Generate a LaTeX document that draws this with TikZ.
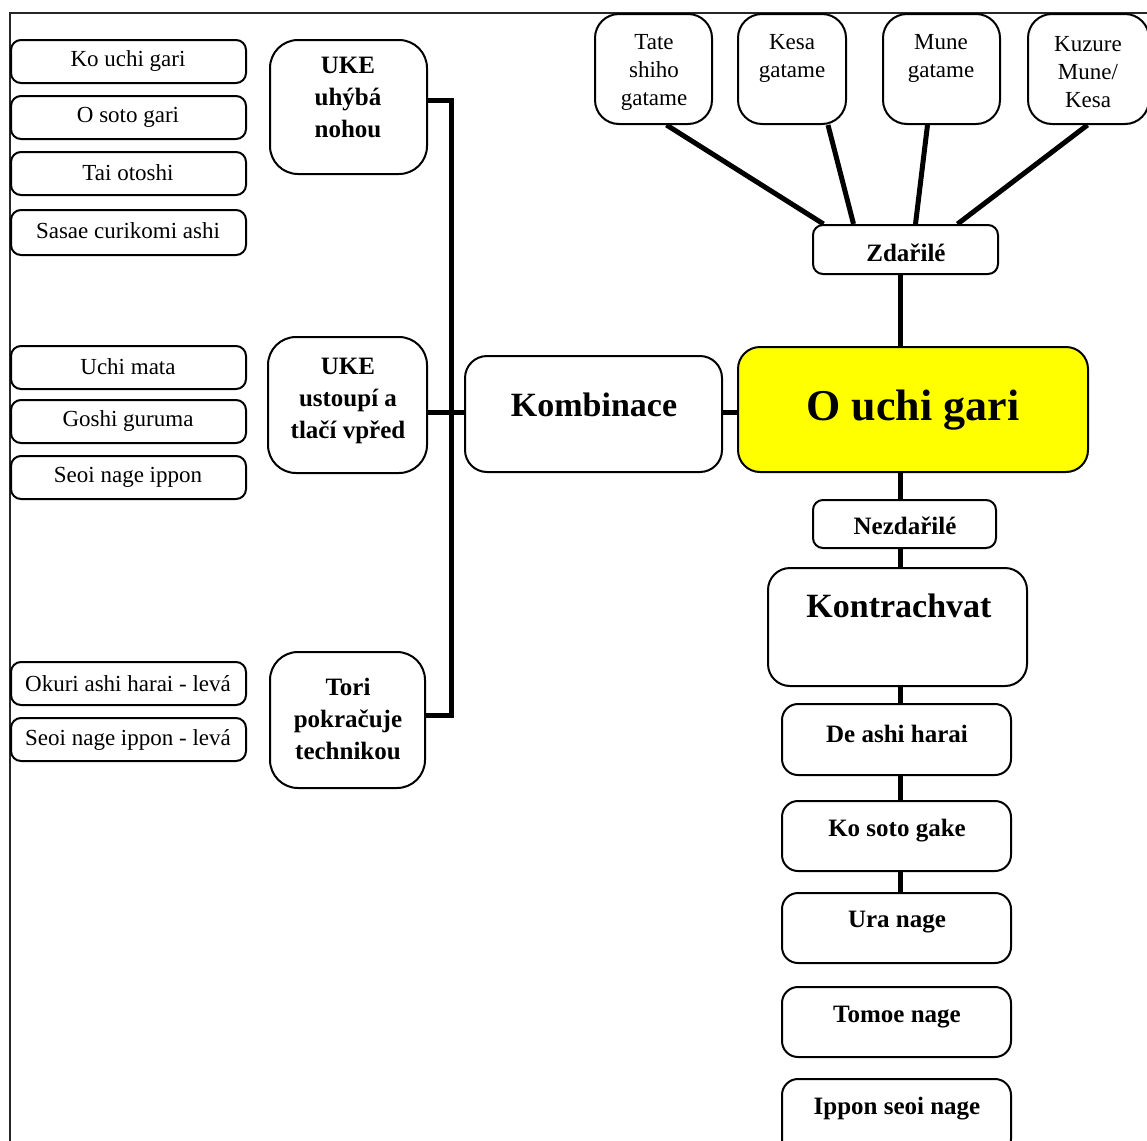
\documentclass[tikz,border=0pt]{standalone}
\usepackage{fontspec}
\setmainfont{Liberation Serif}
\usetikzlibrary{fit,calc,backgrounds}
\definecolor{hiyellow}{RGB}{255,255,0}

\begin{document}
\begin{tikzpicture}[x=0.5pt,y=-0.5pt,
  box/.style={draw, line width=1pt, fill=white, inner sep=0pt, rounded corners=5pt},
  bigbox/.style={box, rounded corners=12pt},
  midbox/.style={box, rounded corners=8pt},
  link/.style={line width=2.5pt},
  frame/.style={line width=1pt, draw=black!85},
  txt/.style={font=\fontsize{11.5pt}{14pt}\selectfont, align=center, inner sep=0pt},
  btxt/.style={font=\fontsize{12.5pt}{16pt}\selectfont\bfseries, align=center, inner sep=0pt},
  htxt/.style={font=\fontsize{17pt}{20pt}\selectfont\bfseries, align=center, inner sep=0pt},
]
\useasboundingbox (0,0) rectangle (1147,1141);

% junction points of the connectors
\coordinate (j1) at (451,100);
\coordinate (j2) at (451,715);
\coordinate (j3) at (451,412);
\coordinate (cx) at (900,0);

% ---------- boxes ----------
% left column of techniques
\node[box, fit={(11,40)(246,83)}]   (kouchi) {};
\node[box, fit={(11,96)(246,139)}]  (osoto) {};
\node[box, fit={(11,152)(246,195)}] (taiot) {};
\node[box, fit={(11,210)(246,255)}] (sasae) {};
\node[box, fit={(11,346)(246,389)}] (uchimata) {};
\node[box, fit={(11,400)(246,443)}] (goshi) {};
\node[box, fit={(11,456)(246,499)}] (seoi) {};
\node[box, fit={(11,662)(246,705)}] (okuri) {};
\node[box, fit={(11,718)(246,761)}] (seoil) {};

% situations
\node[bigbox, rounded corners=14pt, fit={(270,40)(427,174)}]  (uke1) {};
\node[bigbox, rounded corners=14pt, fit={(268,337)(427,473)}] (uke2) {};
\node[bigbox, rounded corners=14pt, fit={(270,652)(425,788)}] (tori) {};

% centre
\node[bigbox, rounded corners=11pt, fit={(465,356)(722,472)}] (komb) {};
\node[bigbox, rounded corners=11pt, fill=hiyellow, fit={(738,347)(1088,472)}] (ouchi) {};

% holds on top
\node[bigbox, fit={(595,14)(712,124)}]  (tate) {};
\node[bigbox, fit={(738,14)(846,124)}]  (kesa) {};
\node[bigbox, fit={(883,14)(1000,124)}] (mune) {};
\node[bigbox, fit={(1028,14)(1149,124)}] (kuzure) {};
\node[box, fit={(813,225)(998,274)}] (zdar) {};

% failure branch
\node[box, fit={(813,500)(996,548)}] (nezdar) {};
\node[bigbox, rounded corners=11pt, fit={(768,568)(1027,686)}] (kontra) {};
\node[midbox, fit={(782,704)(1011,775)}]  (deashi) {};
\node[midbox, fit={(782,801)(1011,871)}]  (kosoto) {};
\node[midbox, fit={(782,893)(1011,963)}]  (ura) {};
\node[midbox, fit={(782,987)(1011,1057)}] (tomoe) {};
\node[midbox, fit={(782,1079)(1011,1155)}] (ippon) {};

% ---------- connectors and frame, behind the boxes ----------
\begin{scope}[on background layer]
% outer frame (top and left edges)
\draw[frame] (10,1145) -- (10,13) -- (1150,13);

\draw[link] (uke1.east |- j1) -- (j1) -- (j2) -- (tori.east |- j2);
\draw[link] (uke2.east |- j3) -- (komb.west |- j3);
\draw[link] (komb.east |- j3) -- (ouchi.west |- j3);

\draw[link] ($(tate.south)+(13,0)$)   -- ($(zdar.north)+(-82,0)$);
\draw[link] ($(kesa.south)+(36,0)$)   -- ($(zdar.north)+(-52,0)$);
\draw[link] ($(mune.south)+(-14,0)$)  -- ($(zdar.north)+(10,0)$);
\draw[link] ($(kuzure.south)+(-1,0)$) -- ($(zdar.north)+(52,0)$);

\draw[link] (cx |- zdar.south)   -- (cx |- ouchi.north);
\draw[link] (cx |- ouchi.south)  -- (cx |- nezdar.north);
\draw[link] (cx |- nezdar.south) -- (cx |- kontra.north);
\draw[link] (cx |- kontra.south) -- (cx |- deashi.north);
\draw[link] (cx |- deashi.south) -- (cx |- kosoto.north);
\draw[link] (cx |- kosoto.south) -- (cx |- ura.north);
\end{scope}

% ---------- labels ----------
\node[txt] (t-kouchi)   at (128,61)  {Ko uchi gari};
\node[txt] (t-osoto)    at (128,117) {O soto gari};
\node[txt] (t-taiot)    at (128,173) {Tai otoshi};
\node[txt] (t-sasae)    at (128,231) {Sasae curikomi ashi};
\node[txt] (t-uchimata) at (128,367) {Uchi mata};
\node[txt] (t-goshi)    at (128,421) {Goshi guruma};
\node[txt] (t-seoi)     at (128,477) {Seoi nage ippon};
\node[txt] (t-okuri)    at (128,684) {Okuri ashi harai - levá};
\node[txt] (t-seoil)    at (128,740) {Seoi nage ippon - levá};

\node[btxt] (t-uke1) at (348,97)  {UKE\\uhýbá\\nohou};
\node[btxt] (t-uke2) at (348,401) {UKE\\ustoupí a\\tlačí vpřed};
\node[btxt] (t-tori) at (348,719) {Tori\\pokračuje\\technikou};

\node[htxt] (t-komb) at (594,405) {Kombinace};
\node[font=\fontsize{22pt}{26pt}\selectfont\bfseries, inner sep=0pt] (t-ouchi) at (913,410) {O uchi gari};

\node[txt] (t-tate)   at (654,72)  {Tate\\shiho\\gatame};
\node[txt] (t-kesa)   at (792,58)  {Kesa\\gatame};
\node[txt] (t-mune)   at (941,58)  {Mune\\gatame};
\node[txt] (t-kuzure) at (1088,72) {Kuzure\\Mune/\\Kesa};
\node[btxt] (t-zdar)  at (906,253) {Zdařilé};

\node[btxt] (t-nezdar) at (905,526)  {Nezdařilé};
\node[htxt] (t-kontra) at (899,606)  {Kontrachvat};
\node[btxt] (t-deashi) at (897,734)  {De ashi harai};
\node[btxt] (t-kosoto) at (897,831)  {Ko soto gake};
\node[btxt] (t-ura)    at (897,922)  {Ura nage};
\node[btxt] (t-tomoe)  at (897,1017) {Tomoe nage};
\node[btxt] (t-ippon)  at (897,1109) {Ippon seoi nage};
\end{tikzpicture}
\end{document}
